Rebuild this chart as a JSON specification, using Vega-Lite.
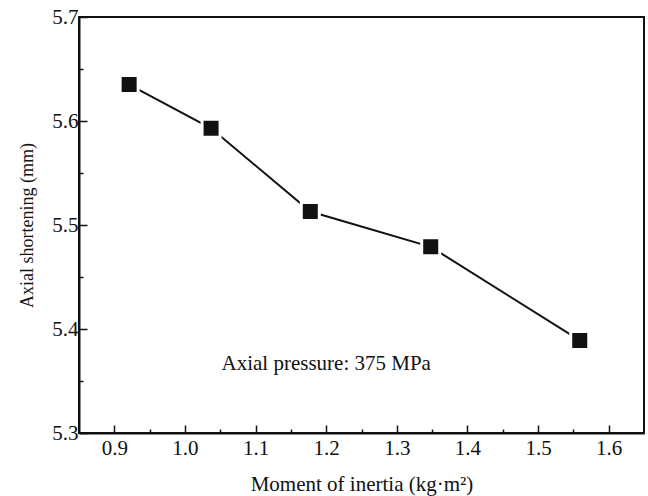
{
  "$schema": "https://vega.github.io/schema/vega-lite/v6.json",
  "width": 565,
  "height": 416,
  "autosize": {"type": "none"},
  "padding": {"left": 79, "top": 17, "right": 4, "bottom": 63},
  "background": "white",
  "config": {
    "view": {"stroke": "#111", "strokeWidth": 2},
    "font": "Liberation Serif",
    "axis": {
      "domainColor": "#111", "domainWidth": 2,
      "tickColor": "#111", "tickWidth": 1.5,
      "labelColor": "#111", "titleColor": "#111",
      "labelFont": "Liberation Serif", "titleFont": "Liberation Serif",
      "labelFontSize": 21, "titleFontWeight": "normal",
      "grid": false, "labelOverlap": false, "labelFlush": false
    }
  },
  "layer": [
    {
      "data": {"values": [
        {"inertia": 0.921, "shortening": 5.635},
        {"inertia": 1.037, "shortening": 5.593},
        {"inertia": 1.1775, "shortening": 5.513},
        {"inertia": 1.348, "shortening": 5.479},
        {"inertia": 1.559, "shortening": 5.389}
      ]},
      "encoding": {
        "x": {
          "field": "inertia", "type": "quantitative",
          "scale": {"domain": [0.85, 1.65], "nice": false, "zero": false},
          "axis": {
            "title": "Moment of inertia (kg·m²)",
            "titleFontSize": 21,
            "values": [0.9, 0.95, 1.0, 1.05, 1.1, 1.15, 1.2, 1.25, 1.3, 1.35, 1.4, 1.45, 1.5, 1.55, 1.6],
            "tickSize": {"condition": {"test": "abs(datum.value*10-round(datum.value*10))<0.001", "value": -8}, "value": -4},
            "labelExpr": "abs(datum.value*10-round(datum.value*10))<0.001 ? format(datum.value,'.1f') : ''",
            "labelPadding": 12,
            "titlePadding": 11
          }
        },
        "y": {
          "field": "shortening", "type": "quantitative",
          "scale": {"domain": [5.3, 5.7], "nice": false, "zero": false},
          "axis": {
            "title": "Axial shortening (mm)",
            "titleFontSize": 18,
            "values": [5.3, 5.35, 5.4, 5.45, 5.5, 5.55, 5.6, 5.65, 5.7],
            "tickSize": {"condition": {"test": "abs(datum.value*10-round(datum.value*10))<0.001", "value": -8}, "value": -4},
            "labelExpr": "abs(datum.value*10-round(datum.value*10))<0.001 ? format(datum.value,'.1f') : ''",
            "labelPadding": 9,
            "titlePadding": 15
          }
        }
      },
      "layer": [
        {"mark": {"type": "line", "color": "#111", "strokeWidth": 2}},
        {"mark": {"type": "square", "size": 324, "color": "#111", "opacity": 1, "filled": true, "stroke": "white", "strokeWidth": 3}}
      ]
    },
    {
      "data": {"values": [{"label": "Axial pressure: 375 MPa"}]},
      "mark": {"type": "text", "fontSize": 21, "font": "Liberation Serif", "color": "#111", "align": "center", "baseline": "middle"},
      "encoding": {
        "text": {"field": "label"},
        "x": {"datum": 1.2, "type": "quantitative"},
        "y": {"datum": 5.366, "type": "quantitative"}
      }
    }
  ]
}
